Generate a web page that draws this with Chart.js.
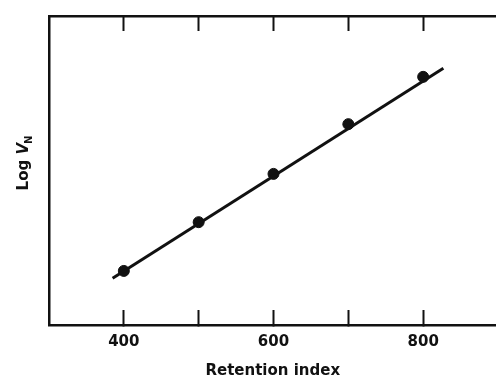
<!DOCTYPE html>
<html>
<head>
<meta charset="utf-8">
<script src="https://cdn.jsdelivr.net/npm/chart.js@4/dist/chart.umd.min.js"></script>
<style>
  body { margin: 0; background: #fff; overflow: hidden; }
  #wrap { width: 496px; height: 380px; overflow: hidden; }
</style>
</head>
<body>
<!-- canvas a little wider than the page: the box is open on the right, as in the scan -->
<div id="wrap"><canvas id="chart" width="503" height="380"></canvas></div>
<script>
// measured points
const retentionIndex = [400, 500, 600, 700, 800];
const logVN = [1.12, 2.13, 3.13, 4.16, 5.14];
// fitted straight line, drawn past the end points
const lineX = [385, 827];
const lineY = [0.97, 5.32];
const tickValues = [400, 500, 600, 700, 800];
const labelledTicks = [400, 600, 800];

const ink = '#111';
const font = { family: 'DejaVu Sans', size: 15, weight: 'bold' };

// y axis title: Log V with subscript N
const yTitle = {
  id: 'yTitle',
  afterDraw(chart) {
    const ctx = chart.ctx;
    const area = chart.chartArea;
    ctx.save();
    ctx.translate(24, (area.top + area.bottom) / 2 - 8);
    ctx.rotate(-Math.PI / 2);
    ctx.fillStyle = ink;
    ctx.textBaseline = 'middle';
    const a = 'Log ';
    ctx.font = 'bold 15px "DejaVu Sans"';
    const wa = ctx.measureText(a).width;
    ctx.font = 'italic bold 15px "DejaVu Sans"';
    const wv = ctx.measureText('V').width;
    ctx.font = 'bold 10px "DejaVu Sans"';
    const wn = ctx.measureText('N').width;
    let x = -(wa + wv + wn) / 2;
    ctx.font = 'bold 15px "DejaVu Sans"';
    ctx.fillText(a, x, 0);
    x += wa;
    ctx.font = 'italic bold 15px "DejaVu Sans"';
    ctx.fillText('V', x, 0);
    x += wv - 1;
    ctx.font = 'bold 10px "DejaVu Sans"';
    ctx.fillText('N', x, 5);
    ctx.restore();
  }
};

function fitX(h) {
  return s => {
    s.height = h;
    s.paddingLeft = 0;
    s.paddingRight = 0;
  };
}

new Chart(document.getElementById('chart'), {
  type: 'scatter',
  data: {
    datasets: [
      {
        data: lineX.map((x, i) => ({ x: x, y: lineY[i] })),
        showLine: true,
        borderColor: ink,
        borderWidth: 3,
        pointRadius: 0
      },
      {
        data: retentionIndex.map((x, i) => ({ x: x, y: logVN[i] })),
        showLine: false,
        backgroundColor: ink,
        borderColor: ink,
        pointRadius: 5.5
      }
    ]
  },
  options: {
    responsive: false,
    animation: false,
    layout: { padding: 0 },
    plugins: { legend: { display: false }, tooltip: { enabled: false } },
    scales: {
      x: {
        type: 'linear',
        position: 'bottom',
        min: 300,
        max: 898,
        afterBuildTicks: s => { s.ticks = tickValues.map(v => ({ value: v })); },
        afterFit: fitX(55),
        grid: { drawOnChartArea: false, tickLength: -15, tickWidth: 2, tickColor: ink },
        border: { color: ink, width: 2.5 },
        ticks: {
          color: ink,
          font: font,
          padding: 23,
          maxRotation: 0,
          callback: v => labelledTicks.includes(v) ? String(v) : ''
        },
        title: { display: true, text: 'Retention index', color: ink, font: font, padding: { top: 4, bottom: 0 } }
      },
      x2: {
        type: 'linear',
        position: 'top',
        min: 300,
        max: 898,
        afterBuildTicks: s => { s.ticks = tickValues.map(v => ({ value: v })); },
        afterFit: fitX(16),
        grid: { drawOnChartArea: false, tickLength: -15, tickWidth: 2, tickColor: ink },
        border: { color: ink, width: 2.5 },
        ticks: { display: false }
      },
      y: {
        min: 0,
        max: 6.4,
        afterFit: s => { s.width = 49; },
        grid: { display: false },
        border: { color: ink, width: 2.5 },
        ticks: { display: false }
      }
    }
  },
  plugins: [yTitle]
});
</script>
</body>
</html>
